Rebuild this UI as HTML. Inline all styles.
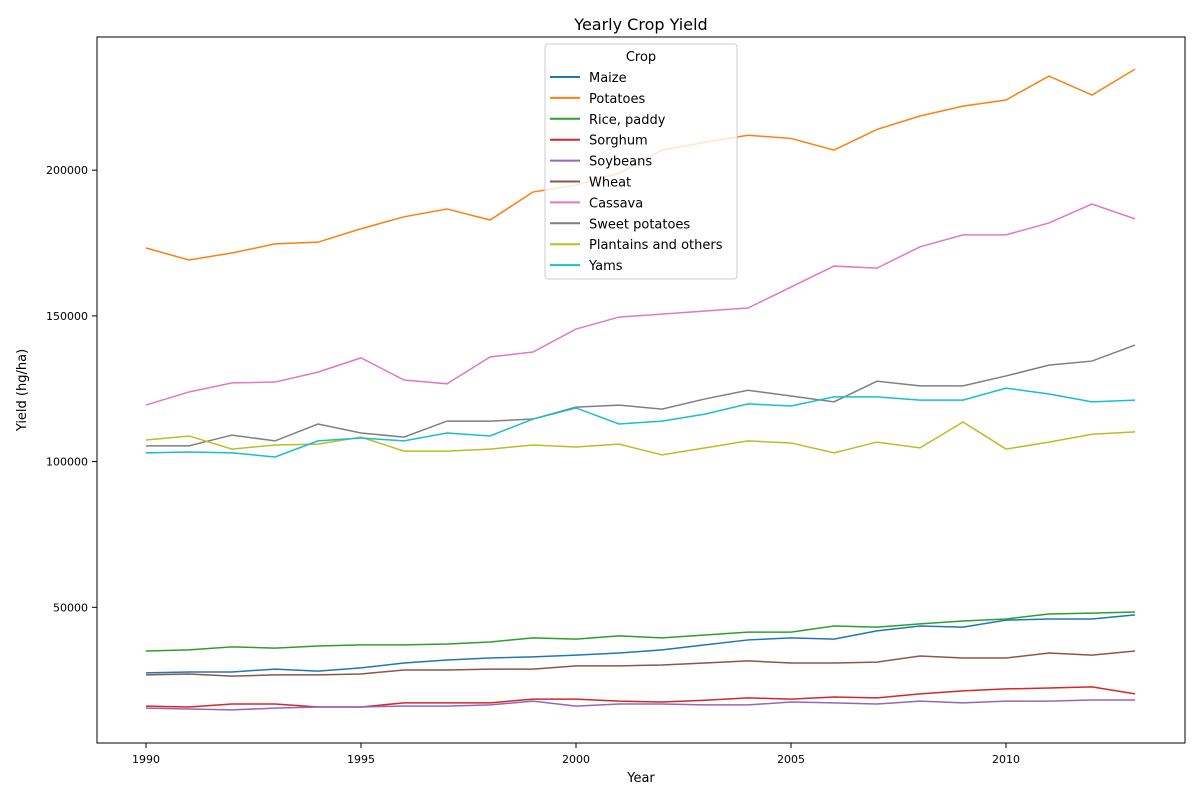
<!DOCTYPE html>
<html><head><meta charset="utf-8"><style>
body{margin:0;background:#fff}
svg{font-family:"DejaVu Sans","Liberation Sans",sans-serif}
</style></head><body>
<svg id="chart" width="1200" height="800" xmlns="http://www.w3.org/2000/svg">
<rect width="1200" height="800" fill="#fff"/>
<text x="641" y="30" text-anchor="middle" font-size="16">Yearly Crop Yield</text>
<g id="grid"></g>
<g id="lines"></g>
<rect x="97" y="37" width="1088" height="706" fill="none" stroke="#000" stroke-width="1"/>
<text x="641" y="782" text-anchor="middle" font-size="13">Year</text>
<text transform="translate(26,390) rotate(-90)" text-anchor="middle" font-size="13">Yield (hg/ha)</text>
<g id="legend"></g>
</svg>
<script>
const years=[1990,1991,1992,1993,1994,1995,1996,1997,1998,1999,2000,2001,2002,2003,2004,2005,2006,2007,2008,2009,2010,2011,2012,2013];
const crops=["Maize","Potatoes","Rice, paddy","Sorghum","Soybeans","Wheat","Cassava","Sweet potatoes","Plantains and others","Yams"];
const colors=["#1f77b4","#ff7f0e","#2ca02c","#d62728","#9467bd","#8c564b","#e377c2","#7f7f7f","#bcbd22","#17becf"];
const maize=[27500,27800,27800,28800,28100,29200,30900,31900,32600,33000,33600,34300,35400,37100,38800,39500,39100,41900,43600,43200,45600,46000,46000,47400];
const potatoes=[173300,169200,171600,174700,175300,179900,184000,186700,182900,192500,194900,199000,206900,209600,212000,210900,206900,214000,218600,222000,224100,232300,225800,234700];
const rice=[35000,35400,36400,36000,36700,37100,37100,37400,38100,39500,39100,40200,39500,40500,41500,41500,43600,43200,44300,45300,46000,47700,48000,48400];
const sorghum=[16100,15800,16800,16800,15800,15800,17200,17200,17200,18500,18500,17800,17500,18100,18900,18500,19200,18900,20300,21300,22000,22300,22700,20300];
const soybeans=[15400,15100,14800,15400,15800,15800,16100,16100,16500,17800,16100,16800,16800,16500,16500,17500,17200,16800,17800,17200,17800,17800,18200,18200];
const wheat=[26800,27100,26400,26800,26800,27100,28500,28500,28800,28800,29900,29900,30200,30900,31600,30900,30900,31200,33300,32600,32600,34300,33600,35000];
const cassava=[119400,123900,127000,127300,130700,135600,128000,126700,135900,137600,145500,149600,150600,151700,152700,159900,167100,166400,173700,177800,177800,181900,188400,183300];
const sweetPotatoes=[105400,105400,109100,107100,112900,109800,108400,113900,113900,114600,118700,119400,118000,121500,124500,122500,120500,127600,126000,126000,129400,133100,134500,140000];
const plantains=[107400,108800,104300,105700,106000,108400,103600,103600,104300,105700,105000,106000,102300,104700,107100,106400,103000,106700,104700,113600,104300,106700,109400,110200];
const yams=[103000,103300,103000,101600,107100,108100,107100,109800,108800,114600,118400,112900,113900,116300,119800,119100,122200,122200,121100,121100,125200,123200,120500,121100];
const xTicks=[1990,1995,2000,2005,2010];
const yTicks=[50000,100000,150000,200000];
const series=[maize,potatoes,rice,sorghum,soybeans,wheat,cassava,sweetPotatoes,plantains,yams];
const NS="http://www.w3.org/2000/svg";
const x=v=>146+(v-1990)*43;
const y=v=>753-v/50000*145.7;
function mk(tag,attrs,parent){const e=document.createElementNS(NS,tag);for(const k in attrs)e.setAttribute(k,attrs[k]);parent.appendChild(e);return e;}
const grid=document.getElementById('grid');
xTicks.forEach(t=>{
 const l=mk('line',{x1:x(t),x2:x(t),y1:743,y2:748,stroke:'#000'},grid);
 
 
 const tx=mk('text',{x:x(t),y:763,'text-anchor':'middle','font-size':11},grid);tx.textContent=t;
 
 
});
yTicks.forEach(t=>{
 const l=mk('line',{x1:92,x2:97,y1:y(t),y2:y(t),stroke:'#000'},grid);
 
 
 const tx=mk('text',{x:88,y:y(t)+4,'text-anchor':'end','font-size':11},grid);tx.textContent=t;
 
 
});
const lines=document.getElementById('lines');
series.forEach((s,i)=>{
 const p=mk('polyline',{points:s.map((v,j)=>x(years[j])+','+y(v)).join(' '),fill:'none',stroke:colors[i],'stroke-width':1.5},lines);
 
 
});
const lg=document.getElementById('legend');
const box=mk('rect',{x:545,y:44,width:192,height:235,rx:3,fill:'#fff','fill-opacity':0.8,stroke:'#ccc'},lg);


const lt=mk('text',{x:641,y:61,'text-anchor':'middle','font-size':13},lg);lt.textContent='Crop';


crops.forEach((c,i)=>{
 const yy=77+i*20.9;
 const g=mk('g',{},lg);
 
 
 mk('line',{x1:550,x2:580,y1:yy,y2:yy,stroke:colors[i],'stroke-width':2},g);
 const t=mk('text',{x:589,y:yy+5,'font-size':13},g);t.textContent=c;
});
</script>
</body></html>
